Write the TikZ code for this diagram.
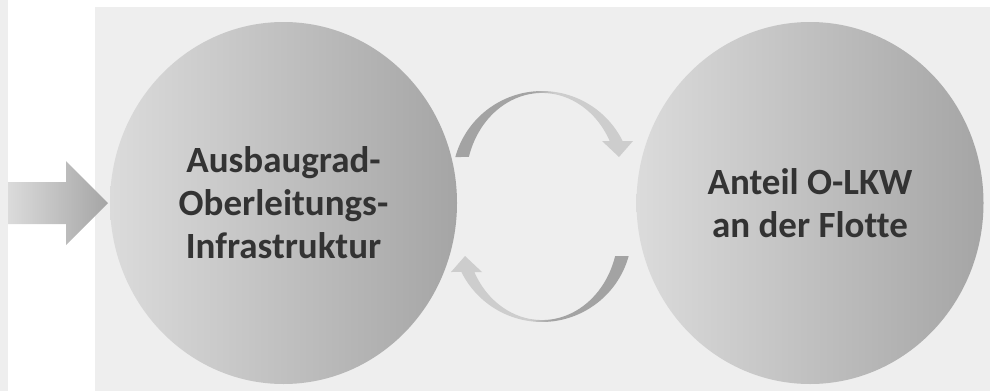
\documentclass[tikz,border=0pt]{standalone}
\usepackage{fontspec}
\setmainfont{Carlito}[Ligatures=NoCommon]
\usepackage{tikz}
\usetikzlibrary{shapes.geometric}
\definecolor{panelgray}{HTML}{EEEEEE}
\definecolor{balllight}{HTML}{DBDBDB}
\definecolor{balldark}{HTML}{A5A5A5}
\definecolor{arcdark}{HTML}{A3A3A3}
\definecolor{arclight}{HTML}{CDCDCD}
\definecolor{labelgray}{HTML}{333333}
\pgfdeclarehorizontalshading{arcfade}{100bp}{color(0bp)=(arcdark); color(47bp)=(arcdark); color(53bp)=(arclight); color(100bp)=(arclight)}

\begin{document}
\begin{tikzpicture}[x=1pt,y=-1pt,
		ball/.style={ellipse, minimum width=347pt, minimum height=362pt, inner sep=0pt, left color=balllight, right color=balldark, align=center, text=labelgray, font=\fontsize{37}{43}\selectfont\bfseries},
		cyclearc/.style={shading=arcfade}]
	\useasboundingbox (0,0) rectangle (990,391);
	\fill[panelgray] (0,0) rectangle (8,391);
	\fill[panelgray] (95,7) rectangle (990,391);
	\shade[left color=balllight, right color=balldark] (8,182) -- (66,182) -- (66,161) -- (108,203) -- (66,245) -- (66,224) -- (8,224) -- cycle;
	\node[ball] (infra) at (283.5,203) {Ausbaugrad-\\Oberleitungs-\\Infrastruktur};
	\node[ball] (flotte) at (810,203) {Anteil O-LKW\\an der Flotte};
	\coordinate (cyc) at (542,206.5);
	\begin{scope}[shift={(cyc)}]
		\shade[cyclearc] (-86.7,-49.5) arc[start angle=195.5, end angle=333.6, radius=90] -- (91,-65.5) -- (77,-49.5) -- (60,-65.5) -- (67.7,-65.5) arc[start angle=333, end angle=195.8, x radius=76, y radius=88] -- cycle;
		\shade[cyclearc, shading angle=180] (86.7,49.5) arc[start angle=15.5, end angle=153.6, radius=90] -- (-91,65.5) -- (-77,49.5) -- (-60,65.5) -- (-67.7,65.5) arc[start angle=153, end angle=15.8, x radius=76, y radius=88] -- cycle;
	\end{scope}
\end{tikzpicture}
\end{document}
